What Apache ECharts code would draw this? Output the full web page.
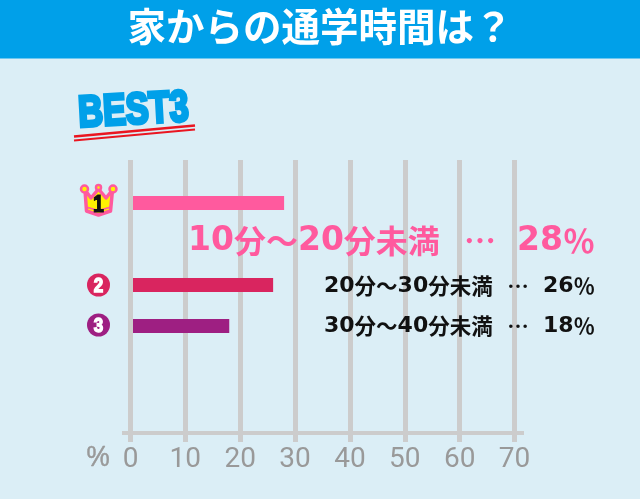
<!DOCTYPE html>
<html><head><meta charset="utf-8">
<style>html,body{margin:0;padding:0;background:#dbeef6}#c{width:640px;height:499px}</style>
<script src="https://cdn.jsdelivr.net/npm/echarts@6/dist/echarts.min.js"></script>
</head><body><div id="c"></div>
<script>
const titleText = '家からの通学時間は？';
const badgeText = 'BEST3';
const rankRows = ['1', '', '2', '3'];
const rankValues = [28, null, 26, 18];
const rankColors = ['#ff5a9e', null, '#d9255f', '#9e1f82'];
const rankNames = ['10分～20分未満', '', '20分～30分未満', '30分～40分未満'];
const axisMax = 70, axisStep = 10;

const chart = echarts.init(document.getElementById('c'), null, {renderer: 'canvas'});
const grey = '#cccccc', tickGrey = '#999999';
const cjk = '"Noto Sans CJK JP",sans-serif';
const sans = '"Liberation Sans",Arial,sans-serif';

// Mixed text: wide digits plus CJK glyphs, as in the reference lettering
function mixed(str) { return str.replace(/(\d+)|([^\d]+)/g, (m, d, c) => d ? '{d|' + d + '}' : '{c|' + c + '}'); }
function richStyles(size, digitSize, color) {
  return {
    d: {fontFamily: '"DejaVu Sans"', fontWeight: 'bold', fontSize: digitSize, fill: color, color: color},
    c: {fontFamily: cjk, fontWeight: 'bold', fontSize: size, fill: color, color: color}
  };
}
function resultRow(i, y, size, digitSize, color, xName, xDots) {
  const common = {z: 20, type: 'text', y: y};
  const rich = richStyles(size, digitSize, color);
  return [
    {...common, x: xName, style: {text: mixed(rankNames[i]), rich, align: 'left', verticalAlign: 'middle'}},
    {...common, x: xDots, style: {text: '…', font: 'bold ' + size + 'px ' + cjk, fill: color, align: 'center', verticalAlign: 'middle'}},
    {...common, x: 595, style: {text: mixed(rankValues[i] + '％'), rich, align: 'right', verticalAlign: 'middle'}}
  ];
}
function numberBadge(i, cy) {
  return [
    {type: 'circle', z: 20, shape: {cx: 98.5, cy: cy, r: 11.5}, style: {fill: rankColors[i]}},
    {type: 'text', z: 21, x: 98.5, y: cy + 1, scaleX: 0.85, style: {text: rankRows[i], font: 'bold 20px ' + sans, fill: '#fff', align: 'center', verticalAlign: 'middle', stroke: '#fff', lineWidth: 1.4}}
  ];
}
const pink = '#ff5a9e', yellow = '#fff200';
const crown = [
  {type: 'polygon', z: 20, shape: {points: [[85,190],[91,198],[98.5,189],[106,198],[112.5,190],[110.5,211],[98.5,215],[86.5,211]]},
    style: {fill: yellow, stroke: pink, lineWidth: 3.5, lineJoin: 'round'}},
  {type: 'circle', z: 21, shape: {cx: 84.5, cy: 189, r: 3.5}, style: {fill: yellow, stroke: pink, lineWidth: 2.5}},
  {type: 'circle', z: 21, shape: {cx: 98.5, cy: 187.5, r: 2.5}, style: {fill: yellow, stroke: pink, lineWidth: 2.5}},
  {type: 'circle', z: 21, shape: {cx: 113, cy: 189, r: 3.5}, style: {fill: yellow, stroke: pink, lineWidth: 2.5}},
  {type: 'polyline', z: 21, shape: {points: [[86,207],[98.5,210.5],[111,207]]}, style: {fill: 'none', stroke: pink, lineWidth: 1.8}},
  {type: 'text', z: 22, x: 98.5, y: 205.5, scaleX: 0.85, style: {text: rankRows[0], font: 'bold 23px ' + sans, fill: '#111', align: 'center', verticalAlign: 'middle', stroke: '#111', lineWidth: 1.2}}
];

chart.setOption({
  animation: false,
  backgroundColor: '#dbeef6',
  title: {text: titleText, left: 'center', top: 7, padding: 0, z: 10,
    textStyle: {color: '#fff', fontSize: 38.5, fontWeight: 'bold', fontFamily: cjk}},
  grid: [
    {left: 130.5, right: 125.5, top: 160, bottom: 66},
    {left: 130.5, right: 125.5, top: 182.5, height: 164}
  ],
  xAxis: [
    {gridIndex: 0, type: 'value', min: 0, max: axisMax, interval: axisStep,
     axisLine: {show: false},
     axisTick: {show: true, length: 9, lineStyle: {color: grey, width: 5}},
     splitLine: {show: true, lineStyle: {color: grey, width: 5}},
     axisLabel: {color: tickGrey, fontFamily: 'Roboto', fontSize: 28, margin: 13, hideOverlap: false}},
    {gridIndex: 1, type: 'value', min: 0, max: axisMax, show: false}
  ],
  yAxis: [
    {gridIndex: 0, type: 'value', show: true, min: 0, max: 1, z: 6,
     axisLine: {show: true, lineStyle: {color: grey, width: 5, cap: 'butt'}}, axisTick: {show: false}, axisLabel: {show: false}, splitLine: {show: false}},
    {gridIndex: 1, type: 'category', inverse: true, data: rankRows, show: false}
  ],
  series: [{
    type: 'bar', xAxisIndex: 1, yAxisIndex: 1, barWidth: 14, silent: true, z: 4,
    data: rankValues.map((v, i) => ({value: v, itemStyle: {color: rankColors[i]}}))
  }],
  graphic: [
    {type: 'rect', z: -1, shape: {x: 0, y: 0, width: 640, height: 58.5}, style: {fill: '#00a0e9'}},
    {type: 'line', z: 3, shape: {x1: 122, y1: 433, x2: 524, y2: 433}, style: {stroke: grey, lineWidth: 4}},
    {type: 'text', z: 5, x: 98, y: 458, scaleX: 0.9, style: {text: '%', font: '29px ' + sans, fill: tickGrey, stroke: tickGrey, lineWidth: 0.5, align: 'center', verticalAlign: 'middle'}},
    {type: 'text', z: 5, x: 133.5, y: 111.5, rotation: 0.055, scaleX: 0.78, style: {text: badgeText, font: 'bold 44px ' + sans, fill: '#00a0e9', stroke: '#00a0e9', lineWidth: 3.5, align: 'center', verticalAlign: 'middle'}},
    {type: 'line', z: 6, shape: {x1: 74, y1: 136.5, x2: 195, y2: 125.5}, style: {stroke: '#ea1520', lineWidth: 2.5}},
    {type: 'line', z: 6, shape: {x1: 74, y1: 140.5, x2: 195, y2: 129.5}, style: {stroke: '#ea1520', lineWidth: 2}},
    ...resultRow(0, 241, 32, 33, pink, 188, 480),
    ...resultRow(2, 286, 21.5, 22, '#111', 324, 518),
    ...resultRow(3, 326, 21.5, 22, '#111', 324, 518),
    ...crown,
    ...numberBadge(2, 285),
    ...numberBadge(3, 325)
  ]
});
</script></body></html>
